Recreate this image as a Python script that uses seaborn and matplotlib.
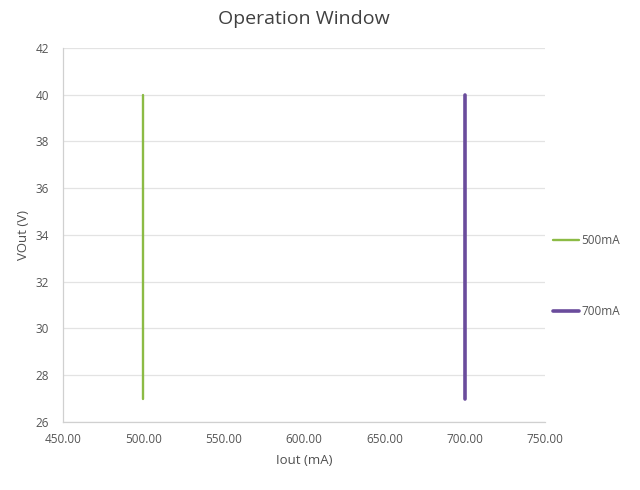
import pandas as pd
import numpy as np
import matplotlib
matplotlib.use('Agg')
import matplotlib.pyplot as plt
import seaborn as sns

# data
series_names = ['500mA', '700mA']
iout_500 = [500, 500]
vout_500 = [27, 40]
iout_700 = [700, 700]
vout_700 = [27, 40]
x_ticks = [450, 500, 550, 600, 650, 700, 750]
y_ticks = [26, 28, 30, 32, 34, 36, 38, 40, 42]

colors = {'500mA': '#8cbb45', '700mA': '#6a4c9c'}
widths = {'500mA': 1.7, '700mA': 2.6}

df = pd.concat([
    pd.DataFrame({'Iout': iout_500, 'Vout': vout_500, 'series': '500mA'}),
    pd.DataFrame({'Iout': iout_700, 'Vout': vout_700, 'series': '700mA'}),
])

sns.set_style('white')
plt.rcParams['font.family'] = ['Open Sans', 'DejaVu Sans']

fig = plt.figure(figsize=(6.4, 4.9), dpi=100)
ax = fig.add_axes([0.098, 0.139, 0.754, 0.763])

for name in series_names:
    sub = df[df['series'] == name]
    sns.lineplot(data=sub, x='Iout', y='Vout', color=colors[name],
                 linewidth=widths[name], label=name, ax=ax,
                 sort=False, estimator=None)

ax.set_xlim(450, 750)
ax.set_ylim(26, 42)
ax.set_xticks(x_ticks)
ax.set_xticklabels([f'{v:.2f}' for v in x_ticks])
ax.set_yticks(y_ticks)
ax.yaxis.grid(True, color='#e3e3e3', linewidth=0.9)
ax.set_axisbelow(True)
for s in ['top', 'right']:
    ax.spines[s].set_visible(False)
for s in ['left', 'bottom']:
    ax.spines[s].set_color('#d0d0d0')
    ax.spines[s].set_linewidth(0.9)
ax.tick_params(axis='both', colors='#555555', labelsize=8.5, length=0)
ax.tick_params(axis='x', pad=8)
ax.tick_params(axis='y', pad=10)

ax.set_xlabel('Iout (mA)', fontsize=9.5, color='#505050', labelpad=6)
ax.set_ylabel('VOut (V)', fontsize=9.5, color='#505050', labelpad=4)
ax.set_title('Operation Window', fontsize=14, color='#404040', pad=17)

leg = ax.legend(loc='center left', bbox_to_anchor=(0.995, 0.39), frameon=False,
                labelspacing=4.9, handlelength=2.2, handletextpad=0.15,
                fontsize=8.5)
for t in leg.get_texts():
    t.set_color('#555555')

fig.savefig('out.png', dpi=100)
